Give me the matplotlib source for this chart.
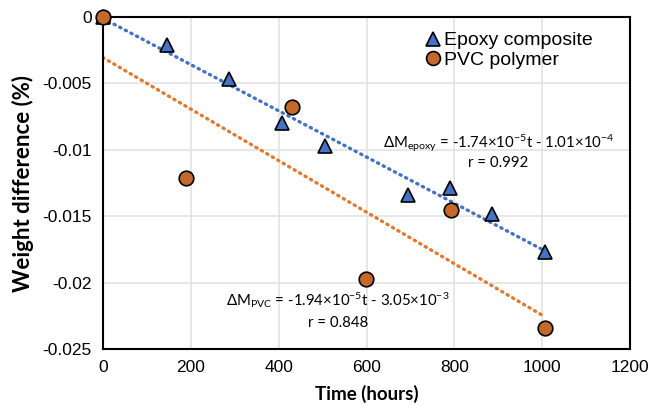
import numpy as np
import matplotlib
matplotlib.use("Agg")
import matplotlib.pyplot as plt
from matplotlib.ticker import FuncFormatter

plt.rcParams['axes.unicode_minus'] = False
plt.rcParams['mathtext.fontset'] = 'custom'
plt.rcParams['mathtext.rm'] = 'Lato'
plt.rcParams['mathtext.it'] = 'Lato:italic'

# data
epoxy_t = [0, 145, 287, 407, 505, 694, 791, 885, 1007]
epoxy_dm = [0, -0.0021, -0.0047, -0.0080, -0.0097, -0.0134, -0.0129, -0.0148, -0.0177]
pvc_t = [0, 190, 431, 598, 792, 1006]
pvc_dm = [0, -0.0121, -0.0068, -0.0197, -0.0145, -0.0234]

# linear fits from the annotation: slope, intercept
epoxy_fit = (-1.74e-5, -1.01e-4)
pvc_fit = (-1.94e-5, -3.05e-3)
epoxy_r = 0.992
pvc_r = 0.848

blue = '#4472C4'
orange = '#C5692A'
orange_line = '#E07A30'

fig = plt.figure(figsize=(6.51, 4.05), dpi=100)
ax = fig.add_axes([0.158, 0.138, 0.81, 0.82])

# trend lines
tt = np.array([0, max(epoxy_t)])
ax.plot(tt, epoxy_fit[0] * tt + epoxy_fit[1], color=blue, lw=2.4,
        ls=(0, (0.4, 1.5)), dash_capstyle='round', zorder=2)
tt = np.array([0, max(pvc_t)])
ax.plot(tt, pvc_fit[0] * tt + pvc_fit[1], color=orange_line, lw=2.4,
        ls=(0, (0.4, 1.5)), dash_capstyle='round', zorder=2)

ax.plot(epoxy_t, epoxy_dm, '^', ms=10.5, mfc=blue, mec='black', mew=1.2,
        ls='none', label='Epoxy composite', zorder=4, clip_on=False)
ax.plot(pvc_t, pvc_dm, 'o', ms=10.5, mfc=orange, mec='black', mew=1.2,
        ls='none', label='PVC polymer', zorder=5, clip_on=False)

ax.set_xlim(0, 1200)
ax.set_ylim(-0.025, 0)
ax.set_xticks(range(0, 1201, 200))
ax.set_yticks(np.arange(-0.025, 0.0001, 0.005))
ax.yaxis.set_major_formatter(FuncFormatter(lambda v, p: '{:g}'.format(round(v, 4))))
ax.grid(True, color='#E3E3E3', lw=1.2, zorder=0)
ax.set_axisbelow(True)
ax.tick_params(length=0, labelsize=12.5, pad=8)
for lab in ax.get_xticklabels() + ax.get_yticklabels():
    lab.set_fontfamily('Liberation Sans')
for s in ax.spines.values():
    s.set_linewidth(1.5)
    s.set_color('black')
    s.set_zorder(3)

ax.set_xlabel('Time (hours)', fontsize=13.5, fontweight='bold', fontfamily='Lato', labelpad=7)
ax.set_ylabel('Weight difference (%)', fontsize=16, fontweight='bold', fontfamily='Lato', labelpad=6)

leg = ax.legend(loc='upper right', bbox_to_anchor=(0.962, 1.008), frameon=False,
                prop={'family': 'Liberation Sans', 'size': 14},
                handletextpad=0.05, borderpad=0.4, labelspacing=0.1, handlelength=1.0,
                markerscale=0.95)

ax.text(900, -0.0095,
        r'ΔM$_{\mathregular{epoxy}}$ = -1.74×10$^{\mathregular{-5}}$t - 1.01×10$^{\mathregular{-4}}$',
        ha='center', va='center', fontsize=10.8, fontfamily='Lato')
ax.text(900, -0.0110, 'r = {:.3f}'.format(epoxy_r),
        ha='center', va='center', fontsize=10.8, fontfamily='Lato')
ax.text(535, -0.0213,
        r'ΔM$_{\mathregular{PVC}}$ = -1.94×10$^{\mathregular{-5}}$t - 3.05×10$^{\mathregular{-3}}$',
        ha='center', va='center', fontsize=10.8, fontfamily='Lato')
ax.text(535, -0.0230, 'r = {:.3f}'.format(pvc_r),
        ha='center', va='center', fontsize=10.8, fontfamily='Lato')

fig.savefig('out.png', dpi=100)
